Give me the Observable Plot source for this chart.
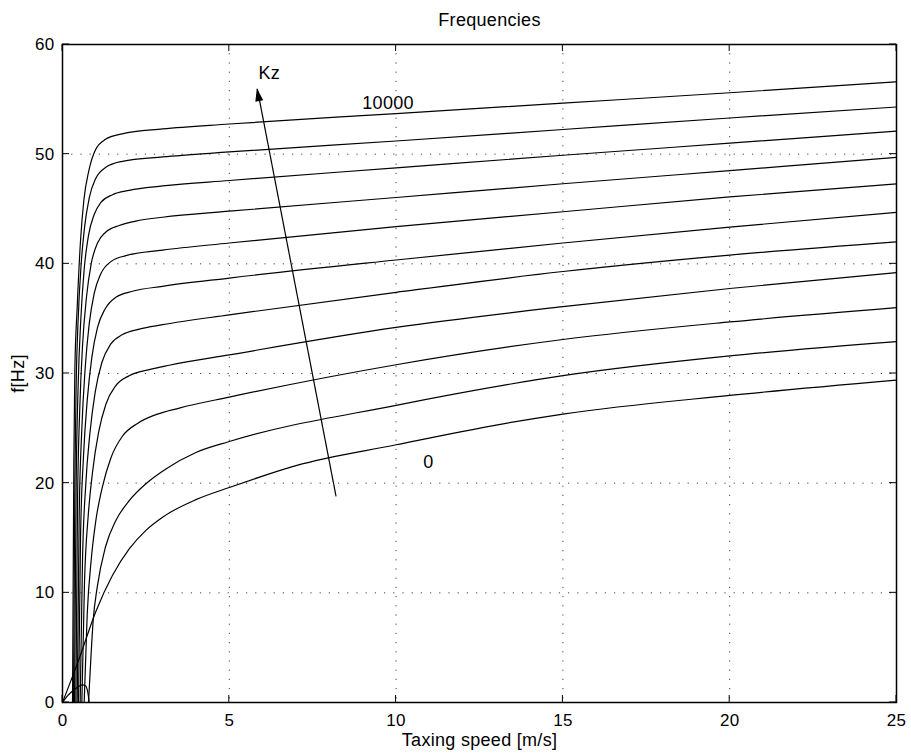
<!DOCTYPE html>
<html>
<head>
<meta charset="utf-8">
<script src="https://cdn.jsdelivr.net/npm/d3@7"></script>
<script src="https://cdn.jsdelivr.net/npm/@observablehq/plot@0.6"></script>
<style>
  html, body { margin: 0; padding: 0; background: #fff; }
</style>
</head>
<body>
<div id="chart"></div>
<script>
// Natural frequency f [Hz] versus taxing speed v [m/s], one curve per vertical stiffness Kz.
// Each entry is [speed, frequency].
const kz10000 = [[0.30,0],[0.34,22],[0.37,30.3],[0.44,36],[0.54,42.1],[0.64,45.8],[0.79,48.5],[0.99,50.4],[1.29,51.35],[1.79,51.85],[3,52.3],[5,52.75],[10,53.7],[15,54.65],[20,55.6],[25,56.6]];
const kz9000  = [[0.33,0],[0.37,20],[0.41,29],[0.47,35],[0.56,40],[0.66,43.3],[0.8,46],[1.0,47.8],[1.3,48.8],[1.8,49.35],[3,49.75],[5,50.2],[10,51.2],[15,52.25],[20,53.3],[25,54.3]];
const kz8000  = [[0.36,0],[0.41,20],[0.47,29],[0.55,35],[0.65,39.5],[0.78,42.6],[0.95,44.5],[1.15,45.6],[1.5,46.3],[2,46.7],[3,47.1],[5,47.6],[10,48.75],[15,49.9],[20,51.0],[25,52.1]];
const kz7000  = [[0.40,0],[0.45,18],[0.52,27],[0.6,32.5],[0.72,37],[0.86,40],[1.05,41.9],[1.3,42.9],[1.7,43.5],[2.2,43.9],[3,44.25],[5,44.8],[10,46.05],[15,47.3],[20,48.5],[25,49.7]];
const kz6000  = [[0.44,0],[0.5,17],[0.58,25],[0.68,30.5],[0.8,34.5],[0.95,37.3],[1.15,39.1],[1.45,40.2],[1.9,40.75],[3,41.25],[5,41.9],[10,43.4],[15,44.75],[20,46.1],[25,47.3]];
const kz5000  = [[0.48,0],[0.54,15],[0.63,22.5],[0.74,27.5],[0.88,31.5],[1.05,34.2],[1.28,35.9],[1.6,36.95],[2.1,37.5],[3,37.95],[5,38.7],[10,40.35],[15,41.9],[20,43.35],[25,44.7]];
const kz4000  = [[0.53,0],[0.6,13],[0.7,20],[0.82,24.5],[0.98,28.3],[1.18,31],[1.45,32.7],[1.8,33.55],[2.3,34.05],[3,34.45],[5,35.35],[10,37.4],[15,39.3],[20,40.8],[25,42.0]];
const kz3000  = [[0.58,0],[0.66,11],[0.77,17],[0.9,21],[1.08,24.6],[1.3,27.2],[1.6,28.9],[2.0,29.8],[2.6,30.35],[3.2,30.75],[5,31.7],[10,34.2],[15,36.1],[20,37.75],[25,39.2]];
const kz2000  = [[0.65,0],[0.74,8],[0.86,13],[1.0,16.6],[1.2,19.7],[1.45,22.3],[1.8,24.3],[2.25,25.45],[2.8,26.25],[3.5,26.85],[5,27.85],[10,30.8],[15,33.1],[20,34.7],[25,36.0]];
const kz1000  = [[0.78,0],[0.85,4],[0.92,7.5],[1.04,10.5],[1.29,14.2],[1.6,16.6],[2.0,18.4],[2.6,20.2],[3.1,21.3],[4,22.8],[5,23.8],[10,27.1],[15,29.8],[20,31.6],[25,32.9]];
const kz0     = [[0,0],[0.5,4],[1.0,8.3],[1.5,11.6],[2.0,14.0],[2.5,15.7],[3.0,16.9],[4.0,18.5],[5,19.6],[7,21.6],[10,23.5],[13,25.3],[15,26.3],[20,28.0],[25,29.4]];
// low-speed branch of the Kz = 0 case
const kz0Low  = [[0,0],[0.15,0.6],[0.3,1.05],[0.45,1.4],[0.6,1.6],[0.68,1.55],[0.74,1.2],[0.78,0.5],[0.8,0]];

const stiffness = ["10000","9000","8000","7000","6000","5000","4000","3000","2000","1000","0","0 (low)"];
const curves = [kz10000, kz9000, kz8000, kz7000, kz6000, kz5000, kz4000, kz3000, kz2000, kz1000, kz0, kz0Low];

const xTicks = [0, 5, 10, 15, 20, 25];
const yTicks = [0, 10, 20, 30, 40, 50, 60];

// annotations: end labels and the increasing-Kz arrow
const labelText  = ["10000", "0", "Kz"];
const labelSpeed = [9.76, 10.97, 6.2];
const labelFreq  = [54.6, 21.9, 57.35];
const arrowFrom = [8.2, 18.8];
const arrowTo   = [5.84, 55.96];

const rows = curves.flatMap((pts, i) => pts.map(([v, f]) => ({kz: stiffness[i], v, f})));
const labels = labelText.map((text, i) => ({text, v: labelSpeed[i], f: labelFreq[i]}));

// MATLAB-style inward ticks on all four sides of the box
function inwardTicks(index, scales, values, dimensions) {
  const {x, y} = scales;
  const {width, height, marginTop, marginRight, marginBottom, marginLeft} = dimensions;
  const L = 7;
  const g = d3.create("svg:g").attr("stroke", "black").attr("stroke-width", 1);
  const bottom = height - marginBottom, right = width - marginRight;
  for (const t of xTicks) {
    const px = x(t);
    g.append("line").attr("x1", px).attr("x2", px).attr("y1", bottom).attr("y2", bottom - L);
    g.append("line").attr("x1", px).attr("x2", px).attr("y1", marginTop).attr("y2", marginTop + L);
  }
  for (const t of yTicks) {
    const py = y(t);
    g.append("line").attr("y1", py).attr("y2", py).attr("x1", marginLeft).attr("x2", marginLeft + L);
    g.append("line").attr("y1", py).attr("y2", py).attr("x1", right).attr("x2", right - L);
  }
  return g.node();
}

// filled head of the Kz arrow
function arrowHead(index, scales) {
  const {x, y} = scales;
  const x1 = x(arrowFrom[0]), y1 = y(arrowFrom[1]);
  const x2 = x(arrowTo[0]), y2 = y(arrowTo[1]);
  const a = Math.atan2(y2 - y1, x2 - x1);
  const len = 13, half = 4;
  const bx = x2 - len * Math.cos(a), by = y2 - len * Math.sin(a);
  const nx = -Math.sin(a) * half, ny = Math.cos(a) * half;
  return d3.create("svg:path")
    .attr("d", `M${x2},${y2}L${bx + nx},${by + ny}L${bx - nx},${by - ny}Z`)
    .attr("fill", "black")
    .node();
}

const chart = Plot.plot({
  width: 911,
  height: 756,
  marginLeft: 62,
  marginRight: 15,
  marginTop: 44,
  marginBottom: 54,
  style: {fontFamily: "'Liberation Sans', Arial, Helvetica, sans-serif", fontSize: "17px", letterSpacing: "0.3px", color: "black", background: "white"},
  x: {domain: [0, 25], ticks: xTicks, tickSize: 0, tickPadding: 11, tickFormat: d3.format("d"), label: null},
  y: {domain: [0, 60], ticks: yTicks, tickSize: 0, tickPadding: 8, tickFormat: d3.format("d"), label: null},
  marks: [
    Plot.ruleX(xTicks.slice(1, -1), {stroke: "black", strokeOpacity: 0.75, strokeDasharray: "1.2,8"}),
    Plot.ruleY(yTicks.slice(1, -1), {stroke: "black", strokeOpacity: 0.75, strokeDasharray: "1.2,8"}),
    Plot.line(rows, {x: "v", y: "f", z: "kz", curve: "monotone-x", stroke: "black", strokeWidth: 1.2}),
    Plot.link([0], {x1: () => arrowFrom[0], y1: () => arrowFrom[1], x2: () => arrowTo[0], y2: () => arrowTo[1], stroke: "black", strokeWidth: 1.2}),
    arrowHead,
    Plot.text(labels, {x: "v", y: "f", text: "text", fontSize: 18}),
    inwardTicks,
    Plot.frame({stroke: "black", strokeWidth: 1.5}),
    Plot.text(["Frequencies"], {frameAnchor: "top", lineAnchor: "middle", textAnchor: "middle", dx: 10, dy: -24, fontSize: 18}),
    Plot.text(["Taxing speed [m/s]"], {frameAnchor: "bottom", lineAnchor: "middle", textAnchor: "middle", dy: 38, fontSize: 18}),
    Plot.text(["f[Hz]"], {frameAnchor: "left", lineAnchor: "middle", textAnchor: "middle", dx: -44, rotate: -90, fontSize: 18})
  ]
});

document.getElementById("chart").append(chart);
</script>
</body>
</html>
